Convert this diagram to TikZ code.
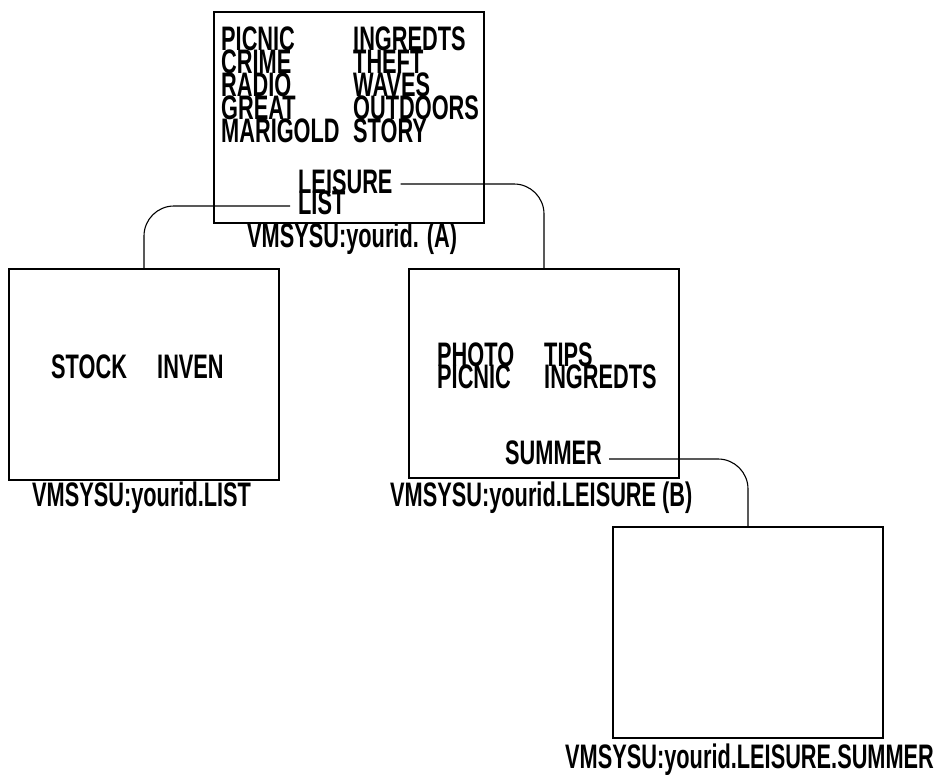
\documentclass[tikz,border=0pt]{standalone}
\usepackage{fontspec}
\setmainfont{Liberation Sans}[FakeStretch=0.64]
\begin{document}
\begin{tikzpicture}[x=1pt,y=-1pt,
  box/.style={draw,line width=2.2pt,minimum width=270pt,minimum height=211pt,inner sep=0pt},
  lbl/.style={anchor=base west,inner sep=0pt,font=\fontsize{34}{34}\selectfont\bfseries},
  conn/.style={draw,line width=1.1pt,rounded corners=30pt}]
\useasboundingbox (0,0) rectangle (934,774);
% boxes
\node[box] (boxA) at (349,117.5) {};
\node[box,minimum height=211pt] (boxL) at (144,374.5) {};
\node[box,minimum height=209pt] (boxB) at (544,373.5) {};
\node[box] (boxC) at (748,632.5) {};
% box A contents
\node[lbl] (a1) at (221,50) {PICNIC};
\node[lbl] (a2) at (221,73) {CRIME};
\node[lbl] (a3) at (221,96) {RADIO};
\node[lbl] (a4) at (221,119) {GREAT};
\node[lbl] (a5) at (221,142) {MARIGOLD};
\node[lbl] (b1) at (353,50) {INGREDTS};
\node[lbl] (b2) at (353,73) {THEFT};
\node[lbl] (b3) at (353,96) {WAVES};
\node[lbl] (b4) at (353,119) {OUTDOORS};
\node[lbl] (b5) at (353,142) {STORY};
\node[lbl] (leis) at (298,193) {LEISURE};
\node[lbl] (list) at (298,214) {LIST};
\node[lbl] (capA) at (247,247) {VMSYSU:yourid. (A)};
% box LIST contents
\node[lbl] (stock) at (51,378) {STOCK};
\node[lbl] (inven) at (157,378) {INVEN};
\node[lbl] (capL) at (32,506) {VMSYSU:yourid.LIST};
% box B contents
\node[lbl] (photo) at (437,366) {PHOTO};
\node[lbl] (picnicB) at (437,388) {PICNIC};
\node[lbl] (tips) at (544,366) {TIPS};
\node[lbl] (ingB) at (544,388) {INGREDTS};
\node[lbl] (summer) at (505,464) {SUMMER};
\node[lbl] (capB) at (390,506) {VMSYSU:yourid.LEISURE (B)};
% box C caption
\node[lbl] (capC) at (565,768) {VMSYSU:yourid.LEISURE.SUMMER};
% connectors
\draw[conn] ([xshift=-8pt,yshift=8pt]list.base west) -| (boxL.north);
\draw[conn] ([xshift=8pt,yshift=9pt]leis.base east) -| (boxB.north);
\draw[conn] ([xshift=7pt,yshift=5pt]summer.base east) -| (boxC.north);
\end{tikzpicture}
\end{document}
